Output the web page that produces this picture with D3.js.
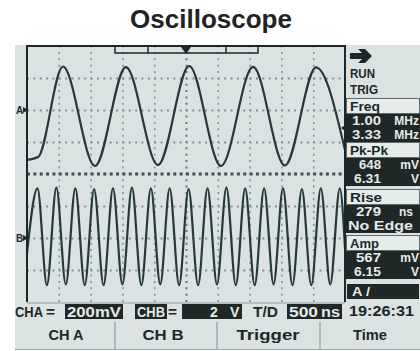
<!DOCTYPE html>
<html>
<head>
<meta charset="utf-8">
<script src="https://cdn.jsdelivr.net/npm/d3@7"></script>
<style>
  body { margin: 0; background: #fff; }
  svg { display: block; }
  text { font-family: 'Liberation Sans', Arial, sans-serif; font-weight: bold; }
</style>
</head>
<body>
<div id="chart"></div>
<script>
// CH A trace, time in ns, value in mV (200 mV/div)
const timeA = [0, 175, 565, 1070, 1555, 2060, 2550, 3050, 3555, 4055, 4545, 5000];
const voltsA = [-312, -294, 272, -350, 268, -344, 275, -350, 270, -347, 266, -250];

// CH B trace, time in ns, value in V (2 V/div)
const timeB = [0, 165, 313, 462, 610, 760, 908, 1055, 1204, 1352, 1500, 1650, 1798, 1948, 2095, 2243, 2392,
  2540, 2690, 2838, 2987, 3135, 3283, 3430, 3580, 3728, 3877, 4025, 4174, 4322, 4470, 4620, 4768, 4918, 5000];
const voltsB = [-0.95, 3.1, -2.95, 3.15, -2.9, 3.1, -2.95, 3.05, -2.95, 3.1, -2.9, 3.15, -2.95, 3.1, -2.9, 3.1, -2.95,
  3.05, -2.95, 3.1, -2.9, 3.15, -2.95, 3.1, -2.95, 3.1, -2.9, 3.1, -2.95, 3.05, -2.95, 3.1, -2.9, 3.1, -0.6];

// readouts on the right
const measLabels = ['Freq', 'Pk-Pk', 'Rise', 'Amp'];
const measA = [['1.00', 'MHz'], ['648', 'mV'], ['279', 'ns'], ['567', 'mV']];
const measB = [['3.33', 'MHz'], ['6.31', 'V'], ['No Edge', ''], ['6.15', 'V']];
const softKeys = ['CH A', 'CH B', 'Trigger', 'Time'];

const W = 420, H = 351;
const ink = '#1c2828', screen = '#dae3e2', gridInk = '#7d9397', invText = '#e4ebe9';
const plot = { left: 27, right: 345, top: 46, bottom: 302 };

const svg = d3.select('#chart').append('svg')
  .attr('width', W)
  .attr('height', H);

svg.append('text')
  .attr('x', 211)
  .attr('y', 28)
  .attr('text-anchor', 'middle')
  .style('font-size', '26px')
  .style('fill', '#222')
  .text('Oscilloscope');

// scope screen
svg.append('rect')
  .attr('x', 15).attr('y', 45)
  .attr('width', 405).attr('height', 305)
  .attr('fill', screen);

const x = d3.scaleLinear().domain([0, 5000]).range([plot.left, plot.right]);
const yA = d3.scaleLinear().domain([-1200, 400]).range([plot.bottom, plot.top]);
const yB = d3.scaleLinear().domain([-4, 12]).range([plot.bottom, plot.top]);

// grid
svg.append('g')
  .attr('transform', `translate(0,${plot.bottom})`)
  .call(d3.axisBottom(x).tickValues(d3.range(500, 5000, 500)).tickSize(-(plot.bottom - plot.top)).tickFormat(''))
  .call(g => g.select('.domain').remove())
  .selectAll('line')
  .attr('stroke', (d) => d === 2500 ? '#5f7579' : gridInk)
  .attr('stroke-width', (d) => d === 2500 ? 2 : 1.6)
  .attr('stroke-dasharray', '2,4.36');

svg.append('g')
  .attr('transform', `translate(${plot.left},0)`)
  .call(d3.axisLeft(yA).tickValues([200, 0, -200, -600, -800, -1000]).tickSize(-(plot.right - plot.left)).tickFormat(''))
  .call(g => g.select('.domain').remove())
  .selectAll('line')
  .attr('stroke', gridInk)
  .attr('stroke-width', 1.8)
  .attr('stroke-dasharray', '2,4.36');

// centre line
svg.append('line')
  .attr('x1', plot.left).attr('x2', plot.right)
  .attr('y1', yA(-400)).attr('y2', yA(-400))
  .attr('stroke', '#3b5256')
  .attr('stroke-width', 2.8)
  .attr('stroke-dasharray', '3,3.36');

// traces
const lineA = d3.line().x((d, i) => x(timeA[i])).y(d => yA(d)).curve(d3.curveMonotoneX);
const lineB = d3.line().x((d, i) => x(timeB[i])).y(d => yB(d)).curve(d3.curveMonotoneX);

svg.append('path')
  .attr('d', lineA(voltsA))
  .attr('fill', 'none')
  .attr('stroke', '#25393a')
  .attr('stroke-width', 2.2);

svg.append('path')
  .attr('d', lineB(voltsB))
  .attr('fill', 'none')
  .attr('stroke', '#25393a')
  .attr('stroke-width', 2.2);

// plot frame
svg.append('path')
  .attr('d', `M${plot.left},${plot.bottom}V${plot.top}H${plot.right}V${plot.bottom}`)
  .attr('fill', 'none')
  .attr('stroke', ink)
  .attr('stroke-width', 2);
svg.append('line')
  .attr('x1', plot.left).attr('x2', plot.right)
  .attr('y1', plot.bottom + 1).attr('y2', plot.bottom + 1)
  .attr('stroke', '#8fa0a3')
  .attr('stroke-width', 1);

// memory window bracket and trigger marker at top
svg.append('rect')
  .attr('x', 115).attr('y', 46)
  .attr('width', 143).attr('height', 7)
  .attr('fill', 'none')
  .attr('stroke', ink)
  .attr('stroke-width', 1.5);
[148, 226].forEach(px => {
  svg.append('line').attr('x1', px).attr('x2', px).attr('y1', 47).attr('y2', 53)
    .attr('stroke', ink).attr('stroke-width', 1.5);
});
svg.append('path')
  .attr('d', 'M181,47L191,47L186,54Z')
  .attr('fill', ink);

// level marker on right edge
svg.append('path')
  .attr('d', 'M348,123L341,128L348,133Z')
  .attr('fill', ink);

// channel markers
[['A', yA(0)], ['B', yB(0)]].forEach(([ch, py]) => {
  svg.append('text')
    .attr('x', 16).attr('y', py + 4)
    .style('font-size', '10px')
    .style('fill', ink)
    .text(ch);
  svg.append('path')
    .attr('d', `M23,${py - 3}L28,${py}L23,${py + 3}Z`)
    .attr('fill', ink);
});

function label(px, py, str, opts = {}) {
  const t = svg.append('text')
    .attr('x', px).attr('y', py)
    .attr('text-anchor', opts.anchor || 'start')
    .style('font-size', (opts.size || 14) + 'px')
    .style('fill', opts.fill || ink)
    .text(str);
  if (opts.width) t.attr('textLength', opts.width).attr('lengthAdjust', 'spacingAndGlyphs');
  return t;
}

// right panel
svg.append('path')
  .attr('d', 'M350,53L362,53L358,49L365,49L372,56L365,63L358,63L362,59L350,59Z')
  .attr('fill', ink);
label(350, 78, 'RUN', { width: 25, size: 13 });
label(350, 94, 'TRIG', { width: 28, size: 13 });

const blockTop = [98, 142, 189, 235];
const numWidths = [[29, 29], [22, 27], [25, 65], [25, 27]];
measLabels.forEach((lab, i) => {
  const top = blockTop[i];
  svg.append('rect')
    .attr('x', 346.5).attr('y', top + 0.5)
    .attr('width', 73).attr('height', 15)
    .attr('fill', '#e6ecea')
    .attr('stroke', '#5b6d70')
    .attr('stroke-width', 1);
  label(350, top + 13, lab, { width: [30, 38, 32, 29][i], size: 12 });
  svg.append('rect')
    .attr('x', 346).attr('y', top + 16)
    .attr('width', 74).attr('height', 28)
    .attr('fill', '#1f2727');
  [measA[i], measB[i]].forEach((m, j) => {
    const py = top + 27 + j * 14;
    if (m[1] === '') {
      label(348, py, m[0], { fill: invText, width: numWidths[i][j], size: 12 });
    } else {
      label(381, py, m[0], { anchor: 'end', fill: invText, width: numWidths[i][j], size: 12 });
      label(m[1] === 'ns' ? 413 : 419, py, m[1], { anchor: 'end', fill: invText, size: 12 });
    }
  });
});

svg.append('rect')
  .attr('x', 347).attr('y', 284)
  .attr('width', 72).attr('height', 15)
  .attr('fill', '#1f2727');
label(352, 296, 'A /', { fill: invText, width: 18, size: 13 });

// status line
label(15, 317, 'CHA', { width: 28 });
label(46, 317, '=', { width: 9 });
svg.append('rect').attr('x', 65).attr('y', 304).attr('width', 58).attr('height', 15).attr('fill', '#1f2727');
label(67, 317, '200mV', { fill: invText, width: 54 });
svg.append('rect').attr('x', 135).attr('y', 304).attr('width', 32).attr('height', 15).attr('fill', '#1f2727');
label(137, 317, 'CHB', { fill: invText, width: 28 });
label(168, 317, '=', { width: 9 });
svg.append('rect').attr('x', 182).attr('y', 304).attr('width', 60).attr('height', 15).attr('fill', '#1f2727');
label(210, 317, '2', { fill: invText });
label(230, 317, 'V', { fill: invText });
label(253, 317, 'T/D', { width: 25 });
svg.append('rect').attr('x', 287).attr('y', 304).attr('width', 55).attr('height', 15).attr('fill', '#1f2727');
label(289, 317, '500', { fill: invText, width: 29 });
label(321, 317, 'ns', { fill: invText, width: 19 });
label(349, 316, '19:26:31', { width: 65 });

// soft keys
[115, 217, 320].forEach(px => {
  svg.append('line').attr('x1', px).attr('x2', px).attr('y1', 322).attr('y2', 349)
    .attr('stroke', '#7f9194').attr('stroke-width', 1);
});
svg.append('line').attr('x1', 15).attr('x2', 420).attr('y1', 349.5).attr('y2', 349.5)
  .attr('stroke', '#9aabae').attr('stroke-width', 1);
const keyCentres = [66, 163, 268, 370];
softKeys.forEach((k, i) => {
  label(keyCentres[i], 340, k, { anchor: 'middle', width: [35, 41, 63, 34][i] });
});
</script>
</body>
</html>
